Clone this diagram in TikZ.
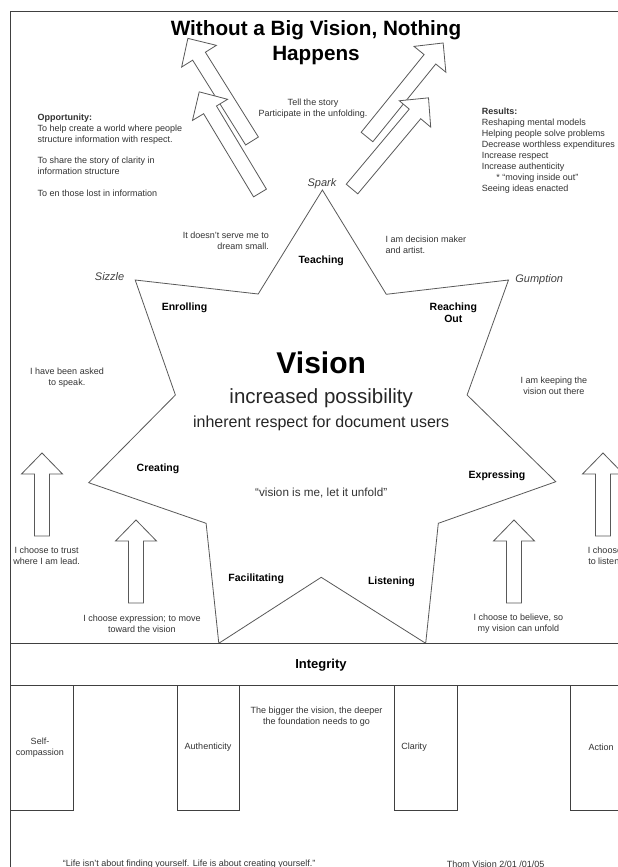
\documentclass[tikz,border=0pt]{standalone}
\usepackage{fontspec}
\setmainfont{Liberation Sans}
\usetikzlibrary{calc}
\def\fatarrow(#1)(#2)(#3){\draw[hollow, shift={(#1)}, rotate=#2] (0,-7.5) -- ({#3-21},-7.5) -- ({#3-21},-20.5) -- (#3,0) -- ({#3-21},20.5) -- ({#3-21},7.5) -- (0,7.5) -- cycle;}
\tikzset{
  every node/.style={inner sep=0pt, text=black!80, font=\fontsize{9}{10.9}\selectfont},
  lbl/.style={text=black, font=\fontsize{10.5}{11.5}\selectfont\bfseries},
  cue/.style={text=black!75, font=\fontsize{11}{13}\selectfont\itshape},
  hollow/.style={draw=black!65, line width=0.8pt, fill=white},
  frame/.style={draw=black!75, line width=1pt},
}
\begin{document}
\begin{tikzpicture}[x=1pt, y=-1pt]
\useasboundingbox (0,0) rectangle (618,867);
\fill[white] (0,0) rectangle (618,867);
\draw[frame] (618,12) -- (10.6,12) -- (10.6,867);
% title
\node (title) at (316,43) [align=center, text=black, font=\fontsize{20.7}{25}\selectfont\bfseries] {Without a Big Vision, Nothing\\Happens};
% big arrows at the top
\fatarrow(252,141)(122)(121)
\fatarrow(260,193)(121)(118)
\fatarrow(367,137)(51)(121)
\fatarrow(352,189)(50)(119)
\node (tell) at (313,109) [align=center] {Tell the story\\Participate in the unfolding.};
\node (opportunity) at (37.4,113.5) [anchor=north west, align=left] {\textbf{Opportunity:}\\To help create a world where people\\structure information with respect.\\[10.9pt]To share the story of clarity in\\information structure\\[10.9pt]To en those lost in information};
\node (results) at (481.7,108) [anchor=north west, align=left] {\textbf{Results:}\\Reshaping mental models\\Helping people solve problems\\Decrease worthless expenditures\\Increase respect\\Increase authenticity\\\hspace{1.6em}* “moving inside out”\\Seeing ideas enacted};
% the star
\draw[hollow] (322.4,190) -- (386.3,294.3) -- (508.5,280) -- (467.1,395) -- (555.8,481.7) -- (438.3,523.3) -- (425.7,643.3) -- (321.2,577.3) -- (218.8,643.3) -- (206.1,523.3) -- (88.7,482.7) -- (175.4,395) -- (135.2,280) -- (258.2,294) -- cycle;
\node (spark) at (322,184) [cue] {Spark};
\node (sizzle) at (109.6,276.7) [cue] {Sizzle};
\node (gumption) at (539.2,279.3) [cue] {Gumption};
\node (dreamsmall) at (269.2,231.4) [anchor=north east, align=right] {It doesn't serve me to\\dream small.};
\node (decision) at (385.5,235.7) [anchor=north west, align=left] {I am decision maker\\and artist.};
\node (teaching) at (321.2,261) [lbl] {Teaching};
\node (enrolling) at (184.5,308.3) [lbl] {Enrolling};
\node (reaching) at (453.3,312.8) [lbl, align=center] {Reaching\\Out};
\node (vision) at (321.2,362.7) [text=black, font=\fontsize{30}{32}\selectfont\bfseries] {Vision};
\node (possibility) at (321.2,398.3) [text=black!85, font=\fontsize{20.5}{23}\selectfont] {increased possibility};
\node (respect) at (321.2,423.3) [text=black!85, font=\fontsize{16}{18}\selectfont] {inherent respect for document users};
\node (unfold) at (321.2,493.3) [font=\fontsize{11.7}{13}\selectfont] {“vision is me, let it unfold”};
\node (creating) at (158,468.5) [lbl] {Creating};
\node (expressing) at (497,476.3) [lbl] {Expressing};
\node (facilitating) at (256.2,579) [lbl] {Facilitating};
\node (listening) at (391.4,581.7) [lbl] {Listening};
% side texts and small arrows
\node (asked) at (67,377.5) [align=center] {I have been asked\\to speak.};
\node (keeping) at (553.8,385.5) [align=center] {I am keeping the\\vision out there};
\fatarrow(42,536)(90)(83)
\fatarrow(136,603)(90)(83)
\fatarrow(514,603)(90)(83)
\fatarrow(603,536)(90)(83)
\node (trust) at (46.7,555.5) [align=center] {I choose to trust\\where I am lead.};
\node (listen) at (605,555.5) [align=center] {I choose\\to listen.};
\node (expression) at (142,623.8) [align=center] {I choose expression; to move\\toward the vision};
\node (believe) at (518.3,623.8) [align=center] {I choose to believe, so\\my vision can unfold};
% foundation
\draw[frame] (10.6,643.3) rectangle (630,685.7);
\node (integrity) at (321,665) [text=black, font=\fontsize{13}{15}\selectfont\bfseries] {Integrity};
\draw[frame] (10.6,685.7) rectangle (73.7,810);
\draw[frame] (177.4,685.7) rectangle (239.3,810);
\draw[frame] (394.2,685.7) rectangle (457.2,810);
\draw[frame] (570.4,685.7) rectangle (630,810);
\node (foundation) at (316.5,716.5) [align=center] {The bigger the vision, the deeper\\the foundation needs to go};
\node (selfcomp) at (40,747.5) [align=center] {Self-\\compassion};
\node (authenticity) at (208,747.3) {Authenticity};
\node (clarity) at (414,747.3) {Clarity};
\node (action) at (601,747.3) {Action};
\node (quote) at (62.7,864) [anchor=west] {“Life isn't about finding yourself. Life is about creating yourself.”};
\node (signature) at (446.7,864) [anchor=west] {Thom Vision 2/01 /01/05};
\end{tikzpicture}
\end{document}
